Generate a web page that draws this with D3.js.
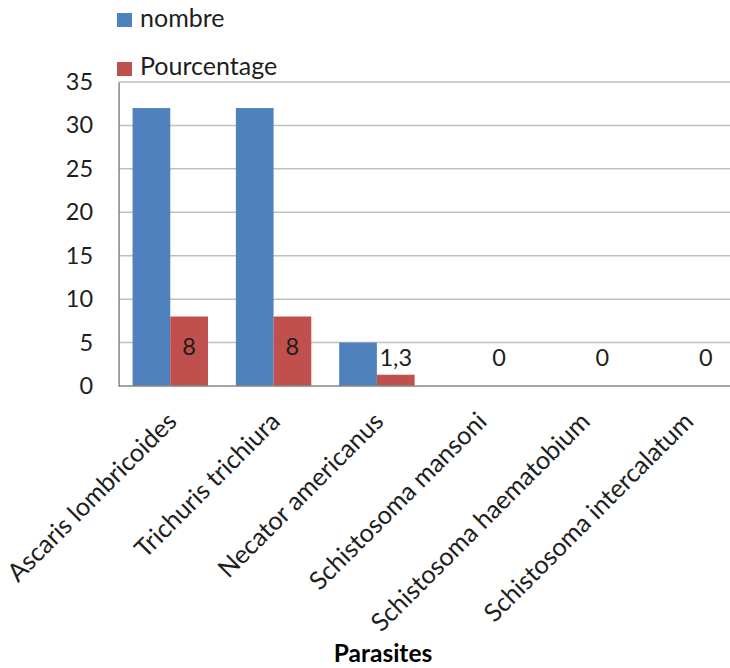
<!DOCTYPE html>
<html><head><meta charset="utf-8">
<script src="https://cdn.jsdelivr.net/npm/d3@7"></script>
<style>body{margin:0;background:#fff}svg{display:block}</style>
</head><body>
<svg id="c" width="730" height="668"></svg>
<script>
const categories = ["Ascaris lombricoides","Trichuris trichiura","Necator americanus","Schistosoma mansoni","Schistosoma haematobium","Schistosoma intercalatum"];
const nombre = [32, 32, 5, 0, 0, 0];
const pourcentage = [8, 8, 1.3, 0, 0, 0];
const pourcentageLabels = ["8","8","1,3","0","0","0"];
const seriesNames = ["nombre","Pourcentage"];
const colors = ["#4F81BD","#C0504D"];
const yTicks = [0,5,10,15,20,25,30,35];

const font = "Lato, 'Open Sans', sans-serif";
const txt = "#1e1e1e";
const svg = d3.select("#c");
const pLeft = 118.6, pRight = 738.5, pTop = 82, pBottom = 386;

const y = d3.scaleLinear().domain([0,35]).range([pBottom, pTop]);
const x0 = d3.scaleBand().domain(categories).range([pLeft, pRight]).paddingInner(0.27).paddingOuter(0.135);
const x1 = d3.scaleBand().domain(seriesNames).range([0, x0.bandwidth()]);

// gridlines
svg.append("g").selectAll("line").data(yTicks.filter(d=>d>0)).join("line")
  .attr("x1", pLeft).attr("x2", 730).attr("y1", d=>y(d)).attr("y2", d=>y(d))
  .attr("stroke","#BFBFBF").attr("stroke-width",1.5);

// bars
const data = categories.map((c,i)=>({c, vals:[nombre[i], pourcentage[i]], lab: pourcentageLabels[i]}));
const g = svg.append("g");
data.forEach(d=>{
  seriesNames.forEach((s,j)=>{
    g.append("rect")
      .attr("x", x0(d.c)+x1(s)).attr("width", x1.bandwidth())
      .attr("y", y(d.vals[j])).attr("height", pBottom - y(d.vals[j]))
      .attr("fill", colors[j]);
  });
});

// axes
const yAxis = d3.axisLeft(y).tickValues(yTicks).tickSize(0).tickPadding(25);
const ya = svg.append("g").attr("transform",`translate(${pLeft},0)`).call(yAxis);
ya.select(".domain").attr("stroke","#868686").attr("stroke-width",1.5);
ya.selectAll("text").attr("font-family",font).attr("font-size",23.5).attr("fill",txt).attr("dx", -0.5);

svg.append("line").attr("x1",pLeft).attr("x2",730).attr("y1",pBottom).attr("y2",pBottom)
  .attr("stroke","#868686").attr("stroke-width",1.5);

// data labels for pourcentage
data.forEach(d=>{
  const v = d.vals[1];
  const cx = x0(d.c)+x1("Pourcentage")+x1.bandwidth()/2;
  const h = pBottom - y(v);
  const cy = h > 26 ? y(v/2) - 4 : Math.min(y(v) - 16, pBottom - 28);
  svg.append("text").attr("x",cx).attr("y",cy).attr("dy","0.35em")
    .attr("text-anchor","middle").attr("font-family",font).attr("font-size",23.5).attr("fill",txt)
    .text(d.lab);
});

// x labels
const xAxis = d3.axisBottom(x0).tickSize(0).tickPadding(0);
const xa = svg.append("g").attr("transform",`translate(0,${pBottom})`).call(xAxis);
xa.select(".domain").remove();
xa.selectAll("text")
  .attr("font-family",font).attr("font-size",25.3).attr("fill",txt)
  .attr("text-anchor","end").attr("dy",0).attr("y",0)
  .attr("transform","translate(8,37) rotate(-45)");

// axis title
svg.append("text").attr("x",383).attr("y",662).attr("text-anchor","middle")
  .attr("font-family",font).attr("font-weight","bold").attr("font-size",24.5).attr("fill","#000")
  .text("Parasites");

// legend
const leg = svg.append("g");
[[13,27],[62,75]].forEach((p,i)=>{
  leg.append("rect").attr("x",117).attr("y",p[0]).attr("width",15).attr("height",14).attr("fill",colors[i]);
  leg.append("text").attr("x",140).attr("y",p[1]).attr("font-family",font).attr("font-size",25).attr("fill",txt).text(seriesNames[i]);
});
</script>
</body></html>
